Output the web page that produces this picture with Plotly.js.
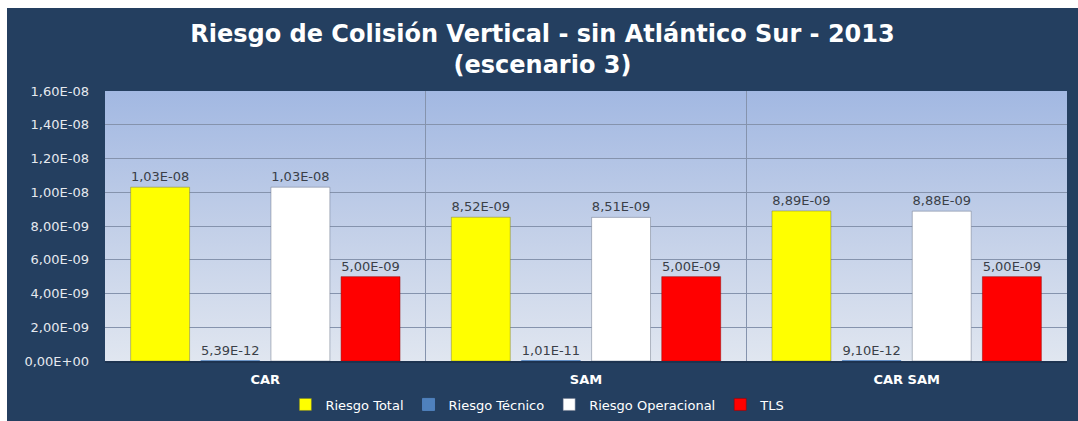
<!DOCTYPE html>
<html>
<head>
<meta charset="utf-8">
<script src="https://cdn.plot.ly/plotly-3.0.1.min.js"></script>
<style>
  html, body { margin: 0; padding: 0; background: #ffffff; }
  #chart { position: absolute; left: 7px; top: 8px; width: 1071px; height: 413px; }
</style>
</head>
<body>
<div id="chart"></div>
<script>
// ---- data ----
const categories = ["CAR", "SAM", "CAR SAM"];
const riesgoTotal = [1.03e-8, 8.52e-9, 8.89e-9];
const riesgoTecnico = [5.39e-12, 1.01e-11, 9.10e-12];
const riesgoOperacional = [1.03e-8, 8.51e-9, 8.88e-9];
const tls = [5.00e-9, 5.00e-9, 5.00e-9];
const yTickVals = [0, 2e-9, 4e-9, 6e-9, 8e-9, 1e-8, 1.2e-8, 1.4e-8, 1.6e-8];
const yTickText = ["0,00E+00", "2,00E-09", "4,00E-09", "6,00E-09", "8,00E-09", "1,00E-08", "1,20E-08", "1,40E-08", "1,60E-08"];

function fmt(v) {
  const s = v.toExponential(2); // e.g. 1.03e-8
  const m = s.match(/^(-?\d\.\d+)e([+-])(\d+)$/);
  const exp = m[3].length < 2 ? "0" + m[3] : m[3];
  return m[1].replace(".", ",") + "E" + m[2] + exp;
}

const FONT = "DejaVu Sans, sans-serif";
const labelFont = { family: FONT, size: 13, color: "#3a3f48" };

function bar(name, values, color, lineColor) {
  return {
    type: "bar",
    name: name,
    x: categories,
    y: values,
    text: values.map(fmt),
    textposition: "outside",
    textfont: labelFont,
    cliponaxis: false,
    marker: { color: color, line: { color: lineColor, width: 1 } },
    hoverinfo: "x+y+name"
  };
}

const traces = [
  bar("Riesgo Total", riesgoTotal, "#ffff00", "rgba(120,120,40,0.45)"),
  bar("Riesgo Técnico", riesgoTecnico, "#4f81bd", "#4f81bd"),
  bar("Riesgo Operacional", riesgoOperacional, "#ffffff", "rgba(110,120,140,0.5)"),
  bar("TLS", tls, "#ff0000", "rgba(150,0,0,0.5)")
];

const gradSvg =
  '<svg xmlns="http://www.w3.org/2000/svg" width="100" height="100" preserveAspectRatio="none">' +
  '<defs><linearGradient id="g" x1="0" y1="0" x2="0" y2="1">' +
  '<stop offset="0" stop-color="#a2b8e2"/>' +
  '<stop offset="0.5" stop-color="#c2cfe8"/>' +
  '<stop offset="1" stop-color="#e0e6f0"/>' +
  '</linearGradient></defs>' +
  '<rect x="0" y="0" width="100" height="100" fill="url(#g)"/></svg>';
const gradUri = "data:image/svg+xml;base64," + btoa(gradSvg);

const layout = {
  width: 1071,
  height: 413,
  paper_bgcolor: "#243f60",
  plot_bgcolor: "rgba(0,0,0,0)",
  margin: { l: 98, r: 11, t: 83, b: 60, autoexpand: false },
  title: {
    text: "Riesgo de Colisión Vertical - sin Atlántico Sur - 2013<br>(escenario 3)",
    x: 0.5,
    xanchor: "center",
    xref: "container",
    yref: "container",
    y: 0.917,
    yanchor: "middle",
    font: { family: FONT, size: 24, color: "#ffffff", weight: "bold" }
  },
  barmode: "group",
  bargap: 0.125,
  bargroupgap: 0.16,
  showlegend: true,
  legend: {
    orientation: "h",
    x: 0.45,
    xanchor: "center",
    yref: "container",
    y: 0.04,
    yanchor: "middle",
    font: { family: FONT, size: 13, color: "#ffffff" },
    bgcolor: "rgba(0,0,0,0)",
    traceorder: "normal",
    itemwidth: 30
  },
  xaxis: {
    type: "category",
    tickson: "boundaries",
    showgrid: true,
    gridcolor: "#8593ad",
    gridwidth: 1,
    ticks: "",
    ticklabelstandoff: 5,
    tickfont: { family: FONT, size: 13, color: "#ffffff", weight: "bold" },
    showline: true,
    linecolor: "#1d3350",
    linewidth: 2,
    zeroline: false,
    fixedrange: true
  },
  yaxis: {
    range: [0, 1.6e-8],
    tickvals: yTickVals,
    ticktext: yTickText,
    showgrid: true,
    gridcolor: "#8593ad",
    gridwidth: 1,
    zeroline: false,
    ticks: "",
    ticklabelstandoff: 15,
    tickfont: { family: FONT, size: 13, color: "#e6e9ef" },
    showline: false,
    fixedrange: true
  },
  images: [{
    source: gradUri,
    xref: "paper", yref: "paper",
    x: 0, y: 1, sizex: 1, sizey: 1,
    xanchor: "left", yanchor: "top",
    sizing: "stretch",
    layer: "below"
  }]
};

Plotly.newPlot("chart", traces, layout, { displayModeBar: false, staticPlot: true });
</script>
</body>
</html>
